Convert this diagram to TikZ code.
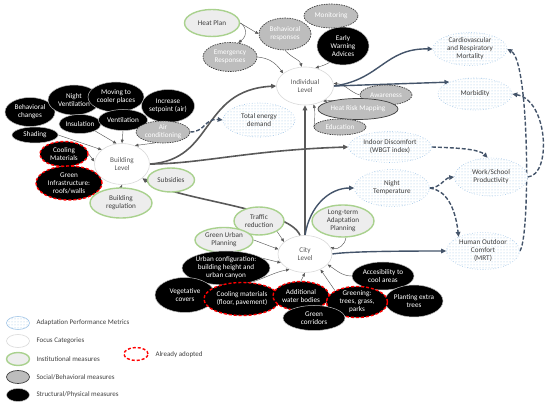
\documentclass[tikz,border=0pt]{standalone}
\usepackage{fontspec}
\setmainfont{Carlito}
\usetikzlibrary{shapes.geometric,arrows.meta,patterns}
\usepackage{xcolor}
\definecolor{slateblue}{HTML}{44546A}
\definecolor{arrowgray}{HTML}{595959}
\definecolor{textgray}{HTML}{404040}
\definecolor{socialgray}{HTML}{BDBDBD}
\definecolor{socialedge}{HTML}{3F3F3F}
\definecolor{institgreen}{HTML}{A9D18E}
\definecolor{institfill}{HTML}{EDEDED}
\definecolor{focusedge}{HTML}{D9D9D9}
\definecolor{metricblue}{HTML}{9DC3E6}
\definecolor{adoptedred}{HTML}{FF0000}
\pgfdeclarelayer{background}
\pgfsetlayers{background,main}

\begin{document}
\begin{tikzpicture}[x=1pt, y=-1pt,
  bubble/.style={ellipse, inner sep=-2pt, align=center, font=\fontsize{7.2}{8}\selectfont},
  wh/.style 2 args={minimum width=#1, minimum height=#2},
  metric/.style={bubble, draw=metricblue, dotted, line width=0.6pt, preaction={fill=white},
    pattern=dots, pattern color=metricblue, text=textgray},
  focus/.style={bubble, draw=focusedge, line width=0.6pt, fill=white, text=arrowgray},
  instit/.style={bubble, draw=institgreen, line width=1.4pt, fill=institfill, text=textgray},
  social/.style={bubble, draw=socialedge, dash pattern=on 1.5pt off 1pt, line width=0.7pt,
    fill=socialgray, text=white},
  struct/.style={bubble, draw=white!75!black, line width=0.5pt, fill=black, text=white},
  adopted/.style={draw=adoptedred, dash pattern=on 3pt off 2pt, line width=1.4pt},
  thinarr/.style={-{Triangle[length=3.5pt,width=3pt]}, arrowgray, line width=0.45pt},
  thickarr/.style={-{Triangle[length=5pt,width=4.5pt]}, arrowgray, line width=1.6pt},
  bluearr/.style={-{Triangle[length=5pt,width=4.5pt]}, slateblue, line width=1.4pt},
  bluedash/.style={bluearr, dash pattern=on 4pt off 2pt}]

  % Canvas
  \useasboundingbox (0,0) rectangle (550,406);

  % ==================== 1. INDIVIDUAL LEVEL ====================
  \node[instit, wh={55}{27}] (heatplan) at (212,23) {Heat Plan};
  \node[social, wh={52}{32}] (behavresp) at (285,34) {Behavioral\\responses};
  \node[social, wh={54}{24}] (monitoring) at (331,16) {Monitoring};
  \node[struct, wh={52}{38}] (earlywarn) at (343,46) {Early\\Warning\\Advices};
  \node[social, wh={54}{29}] (emergency) at (230,57) {Emergency\\Responses};
  \node[focus, wh={57}{38}] (indiv) at (305,86) {Individual\\Level};
  \node[social, wh={52}{20}] (awareness) at (386,95) {Awareness};
  \node[social, solid, wh={80}{21}] (riskmap) at (358,109) {Heat Risk Mapping};
  \node[social, wh={52}{16}] (education) at (340,127) {Education};
  \node[metric, wh={72}{34}] (energy) at (259,120) {Total energy\\demand};

  % ==================== 2. PERFORMANCE METRICS ====================
  \node[metric, wh={74}{33}] (cardio) at (470,49) {Cardiovascular\\and Respiratory\\Mortality};
  \node[metric, wh={74}{32}] (morbid) at (475,94) {Morbidity};
  \node[metric, wh={83}{31}] (indoor) at (390,147) {Indoor Discomfort\\(WBGT index)};
  \node[metric, wh={73}{38}] (worksch) at (491,177) {Work/School\\Productivity};
  \node[metric, wh={75}{37}] (nighttemp) at (392,188) {Night\\Temperature};
  \node[metric, wh={73}{37}] (outdoor) at (483,251) {Human Outdoor\\Comfort\\(MRT)};

  % ==================== 3. BUILDING LEVEL ====================
  \node[struct, wh={50}{29}] (behchange) at (30,112) {Behavioral\\changes};
  \node[struct, wh={52}{30}] (nightvent) at (74,100) {Night\\Ventilation};
  \node[struct, wh={56}{30}] (moving) at (116,97) {Moving to\\cooler places};
  \node[struct, wh={53}{33}] (setpoint) at (168,106) {Increase\\setpoint (air)};
  \node[struct, wh={42}{19}] (insulation) at (80,124) {Insulation};
  \node[struct, wh={49}{21}] (ventilation) at (123,120) {Ventilation};
  \node[struct, wh={46}{16}] (shading) at (35,135) {Shading};
  \node[social, wh={54}{22}] (aircon) at (163,132) {Air\\conditioning};
  \node[struct, adopted, wh={48}{25}] (coolmat) at (64,154) {Cooling\\Materials};
  \node[struct, adopted, wh={66}{34}] (greeninfra) at (69,183) {Green\\Infrastructure:\\roofs/walls};
  \node[focus, wh={55}{41}] (building) at (122,164) {Building\\Level};
  \node[instit, wh={47}{24}] (subsidies) at (171,180) {Subsidies};
  \node[instit, wh={62}{30}] (regulation) at (121,203) {Building\\regulation};

  % ==================== 4. CITY LEVEL ====================
  \node[instit, wh={62}{32}] (longterm) at (343,221) {Long-term\\Adaptation\\Planning};
  \node[focus, wh={54}{37}] (city) at (305,254) {City\\Level};
  \node[instit, wh={50}{28}] (traffic) at (259,221) {Traffic\\reduction};
  \node[instit, wh={58}{25}] (greenplan) at (224,240) {Green Urban\\Planning};
  \node[struct, wh={88}{34}] (urbconf) at (226,268) {Urban configuration:\\building height and\\urban canyon};
  \node[struct, wh={60}{35}] (vegcov) at (185,295) {Vegetative\\covers};
  \node[struct, adopted, wh={76}{33}] (coolmatcity) at (242,299) {Cooling materials\\(floor, pavement)};
  \node[struct, adopted, wh={56}{29}] (water) at (301,296) {Additional\\water bodies};
  \node[struct, wh={62}{28}] (access) at (383,276) {Accesibility to\\cool areas};
  \node[struct, wh={58}{32}] (planting) at (414,301) {Planting extra\\trees};
  \node[struct, adopted, wh={61}{31}] (greening) at (357,302) {Greening:\\trees, grass,\\parks};
  \node[struct, wh={62}{25}] (corridors) at (314,318) {Green\\corridors};

  % ==================== 5. CONNECTORS ====================
  \begin{pgfonlayer}{background}
  % Measures to Individual Level
  \draw[thinarr] (heatplan.east) -- (behavresp.west);
  \draw[thinarr] (heatplan.east) .. controls (245,25) and (249,35) .. (emergency.60);
  \draw[thinarr] (emergency.east) .. controls (268,58) and (275,62) .. (indiv.150);
  \draw[thinarr] (behavresp.south) .. controls (292,58) and (300,60) .. (indiv.100);
  \draw[thinarr] (earlywarn.230) .. controls (330,62) and (328,64) .. (indiv.60);
  \draw[thinarr] (awareness.west) .. controls (350,92) and (345,84) .. (indiv.5);
  \draw[thinarr] (riskmap.160) -- (indiv.-40);
  \draw[thinarr] (education.west) .. controls (315,124) and (315,110) .. (indiv.-65);

  % Measures to Building Level
  \draw[thinarr] (shading.east) -- (building.145);
  \draw[thinarr] (insulation.south east) -- (building.105);
  \draw[thinarr] (ventilation.south) -- (building.north);
  \draw[thinarr] (aircon.235) -- (building.55);
  \draw[thinarr] (coolmat.east) -- (building.175);
  \draw[thinarr] (greeninfra.north east) -- (building.210);
  \draw[thinarr] (regulation.north) -- (building.south);

  % Measures to City Level
  \draw[thinarr] (traffic.-30) -- (city.150);
  \draw[thinarr] (greenplan.east) -- (city.170);
  \draw[thinarr] (longterm.-80) .. controls (345,245) and (338,250) .. (city.15);
  \draw[thinarr] (urbconf.15) -- (city.200);
  \draw[thinarr] (coolmatcity.60) .. controls (265,278) and (275,272) .. (city.225);
  \draw[thinarr] (water.north) -- (city.south);
  \draw[thinarr] (greening.north west) -- (city.-45);
  \draw[thinarr] (access.west) .. controls (342,276) and (336,270) .. (city.-25);

  % Focus categories among themselves
  \draw[thickarr] (city.north) -- (indiv.south);
  \draw[thickarr] (building.east) .. controls (215,160) and (200,90) .. (indiv.west);
  \draw[thickarr] (building.east) .. controls (200,164) and (250,150) .. (indoor.west);
  \draw[thickarr] (city.105) .. controls (290,208) and (175,200) .. (building.-35);

  % Focus categories to metrics
  \draw[bluearr] (indiv.east) .. controls (380,80) and (385,48) .. (cardio.west);
  \draw[bluearr] (indiv.east) -- (morbid.155);
  \draw[bluearr] (city.north) .. controls (310,205) and (330,188) .. (nighttemp.west);
  \draw[bluearr] (city.east) .. controls (345,252) and (380,251) .. (outdoor.west);

  % Metric interactions
  \draw[bluedash] (aircon.east) .. controls (205,132) and (205,118) .. (energy.west);
  \draw[bluedash] (indoor.east) .. controls (465,148) and (480,150) .. (worksch.100);
  \draw[bluedash] (nighttemp.east) .. controls (440,188) and (445,178) .. (worksch.west);
  \draw[bluedash] (nighttemp.east) .. controls (445,190) and (455,205) .. (outdoor.150);
  \draw[bluedash] (outdoor.east) .. controls (530,240) and (530,62) .. (cardio.east);
  \draw[bluedash] (worksch.east) .. controls (552,175) and (548,100) .. (morbid.east);
  \end{pgfonlayer}

  % ==================== 6. LEGEND ====================
  \foreach \sty/\lab [count=\i] in {metric/{Adaptation Performance Metrics}, focus/{Focus Categories},
      instit/{Institutional measures}, social/{Social/Behavioral measures}, struct/{Structural/Physical measures}} {
    \node[\sty, solid, wh={23}{13}] (legkey\i) at (18,305+18*\i) {};
    \node[anchor=west, text=textgray, font=\fontsize{7}{8}\selectfont] (legtext\i) at (33,305+18*\i) {\lab};
  }
  \node[bubble, adopted, fill=white, wh={24}{13}] (legadopt) at (136,354) {};
  \node[anchor=west, text=textgray, font=\fontsize{7}{8}\selectfont] (legadopttext) at (152,355) {Already adopted};

\end{tikzpicture}
\end{document}
